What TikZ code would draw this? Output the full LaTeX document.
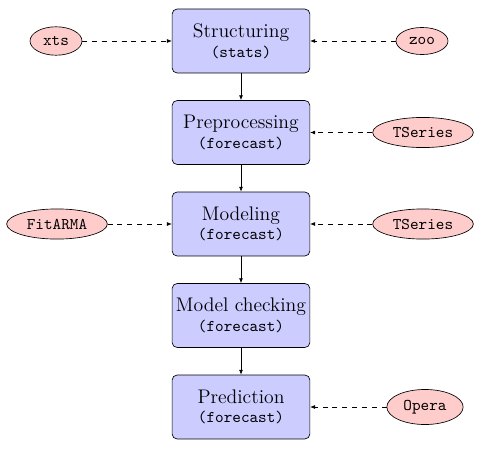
\documentclass[tikz,border=0pt]{standalone}
\usetikzlibrary{arrows.meta,shapes.geometric}

\tikzset{every picture/.style={line width=0.4pt}}
\tikzset{
  stage/.style={draw, rounded corners=3pt, fill=blue!20, align=center,
    minimum width=84pt, minimum height=39pt, inner sep=2pt},
  pkg/.style={draw, ellipse, fill=red!20, font=\ttfamily, minimum height=16.5pt},
  flow/.style={-{Latex[length=3pt,width=2.4pt]}},
  feed/.style={dashed, -{Latex[length=3pt,width=2.4pt]}},
}

\begin{document}
\begin{tikzpicture}[x=0.61pt,y=0.61pt,yscale=-1,xscale=1]
\useasboundingbox (0,0) rectangle (483,448);

% stages
\node [stage] (struct) at (241,41) {{\large Structuring}\\\texttt{(stats)}};
\node [stage] (prep) at (241,132.5) {{\large Preprocessing}\\\texttt{(forecast)}};
\node [stage] (model) at (241,224) {{\large Modeling}\\\texttt{(forecast)}};
\node [stage] (check) at (241,315.5) {{\large Model checking}\\\texttt{(forecast)}};
\node [stage] (pred) at (241,407) {{\large Prediction}\\\texttt{(forecast)}};

% packages
\node [pkg] (xts) at (56,41) {xts};
\node [pkg] (zoo) at (422,41) {zoo};
\node [pkg] (tsA) at (423,132.5) {TSeries};
\node [pkg] (fitarma) at (57,224) {FitARMA};
\node [pkg] (tsB) at (423,224) {TSeries};
\node [pkg] (opera) at (425,407) {Opera};

% main flow
\draw [flow] (struct) -- (prep);
\draw [flow] (prep) -- (model);
\draw [flow] (model) -- (check);
\draw [flow] (check) -- (pred);

% package inputs
\draw [feed] (xts) -- (struct);
\draw [feed] (zoo) -- (struct);
\draw [feed] (tsA) -- (prep);
\draw [feed] (fitarma) -- (model);
\draw [feed] (tsB) -- (model);
\draw [feed] (opera) -- (pred);

\end{tikzpicture}
\end{document}
